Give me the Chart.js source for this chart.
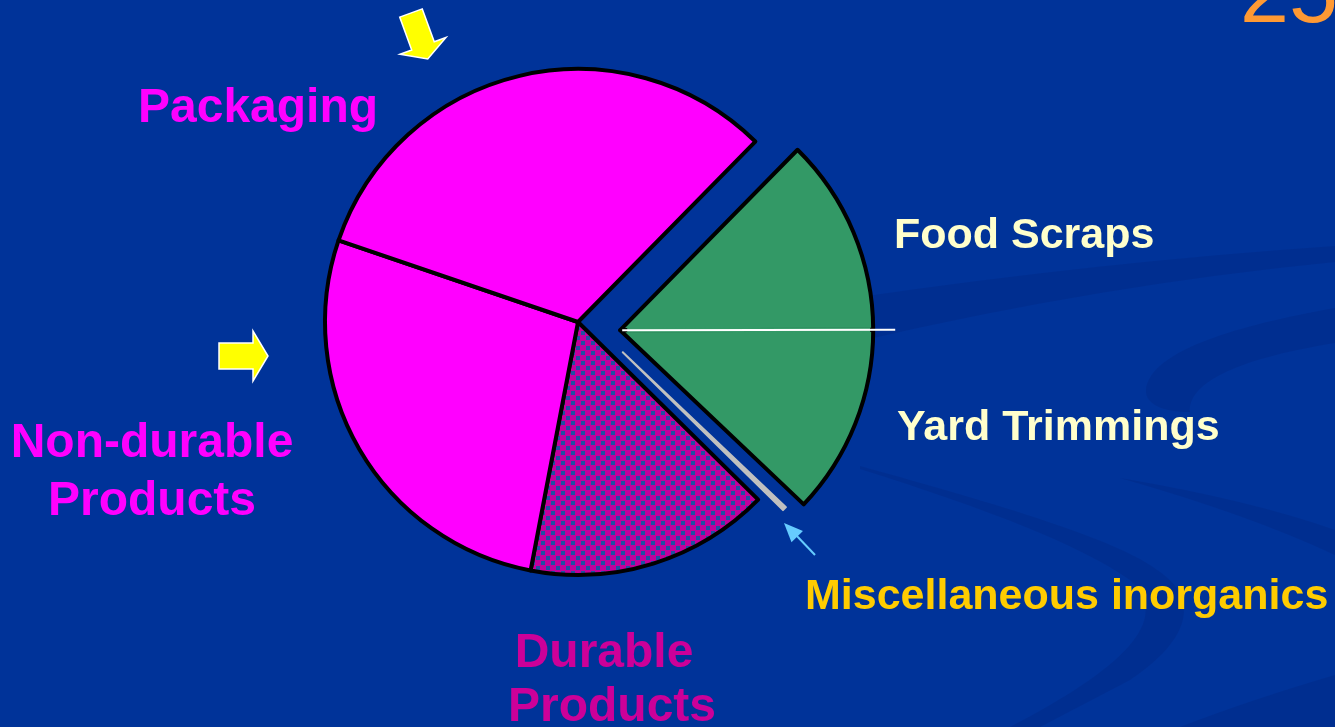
<!DOCTYPE html>
<html>
<head>
<meta charset="utf-8">
<script src="https://cdn.jsdelivr.net/npm/chart.js@4.4.1/dist/chart.umd.min.js"></script>
<style>
  html, body { margin: 0; padding: 0; background: #003399; overflow: hidden; }
  #wrap { position: relative; width: 1335px; height: 727px; }
  #wasteChart { position: absolute; left: 0; top: 0; }
  .lbl { position: absolute; font-family: "Liberation Sans", Arial, sans-serif; font-weight: bold; line-height: 1; white-space: nowrap; }
</style>
</head>
<body>
<div id="wrap">
  <canvas id="wasteChart" width="1335" height="727"></canvas>

  <div class="lbl" style="left:1240px; top:-52px; font-size:88px; font-weight:normal; color:#ff9933;">25</div>
  <div class="lbl" style="left:138px; top:82px; font-size:48px; color:#ff00ff;">Packaging</div>
  <div class="lbl" style="left:-48px; width:400px; text-align:center; top:417px; font-size:48px; color:#ff00ff;">Non-durable</div>
  <div class="lbl" style="left:-48px; width:400px; text-align:center; top:475px; font-size:48px; color:#ff00ff;">Products</div>
  <div class="lbl" style="left:404px; width:400px; text-align:center; top:627px; font-size:48px; color:#cc0099;">Durable</div>
  <div class="lbl" style="left:412px; width:400px; text-align:center; top:681px; font-size:48px; color:#cc0099;">Products</div>
  <div class="lbl" style="left:894px; top:212px; font-size:43px; color:#ffffcc;">Food Scraps</div>
  <div class="lbl" style="left:897px; top:404px; font-size:43px; color:#ffffcc;">Yard Trimmings</div>
  <div class="lbl" style="left:805px; top:573px; font-size:43px; color:#ffcc00;">Miscellaneous inorganics</div>
</div>

<script>
// share of municipal solid waste (%)
const categories = ['Food Scraps', 'Yard Trimmings', 'Miscellaneous inorganics', 'Durable Products', 'Non-durable Products', 'Packaging'];
const shares = [12.6, 12.1, 0.3, 15.6, 27.2, 32.1];

const GREEN = '#339966';

// dotted fill for the durable slice
function dotPattern() {
  const c = document.createElement('canvas');
  c.width = 10; c.height = 10;
  const g = c.getContext('2d');
  g.fillStyle = '#c2009c';
  g.fillRect(0, 0, 10, 10);
  g.fillStyle = '#2050a4';
  g.fillRect(1, 1, 4, 4);
  g.fillRect(6, 6, 4, 4);
  return g.createPattern(c, 'repeat');
}

// pulled-out slices: distance, direction (deg, clockwise from 12 o'clock), radius trim
const explode = [
  { dist: 43, dir: 101, trim: 0 },
  { dist: 43, dir: 101, trim: 0 },
  { dist: 54, dir: 124, trim: 28 },
  null, null, null
];

const explodePlugin = {
  id: 'explode',
  afterDatasetsUpdate(chart) {
    chart.getDatasetMeta(0).data.forEach((arc, i) => {
      const e = explode[i];
      if (!e) return;
      const a = e.dir * Math.PI / 180;
      arc.x += Math.sin(a) * e.dist;
      arc.y -= Math.cos(a) * e.dist;
      arc.outerRadius -= e.trim;
    });
  },
  afterDatasetsDraw(chart) {
    // white divider between food scraps and yard trimmings
    const yard = chart.getDatasetMeta(0).data[1];
    const ctx = chart.ctx;
    const a = yard.startAngle, r = yard.outerRadius;
    const cos = Math.cos(a), sin = Math.sin(a);
    ctx.save();
    ctx.lineCap = 'butt';
    ctx.strokeStyle = GREEN;
    ctx.lineWidth = 5;
    ctx.beginPath();
    ctx.moveTo(yard.x + cos * 7, yard.y + sin * 7);
    ctx.lineTo(yard.x + cos * (r - 3), yard.y + sin * (r - 3));
    ctx.stroke();
    ctx.strokeStyle = '#ffffff';
    ctx.lineWidth = 2;
    ctx.beginPath();
    ctx.moveTo(yard.x + cos * 2, yard.y + sin * 2);
    ctx.lineTo(yard.x + cos * (r + 22), yard.y + sin * (r + 22));
    ctx.stroke();
    ctx.restore();
  }
};

// faint swooshes of the slide background
const backdropPlugin = {
  id: 'backdrop',
  beforeDraw(chart) {
    const ctx = chart.ctx;
    ctx.save();
    ctx.fillStyle = 'rgba(0, 30, 110, 0.2)';
    ctx.beginPath();
    ctx.moveTo(860, 297);
    ctx.quadraticCurveTo(1100, 262, 1335, 246);
    ctx.lineTo(1335, 262);
    ctx.quadraticCurveTo(1100, 285, 860, 341);
    ctx.closePath();
    ctx.fill();

    ctx.beginPath();
    ctx.moveTo(1335, 308);
    ctx.bezierCurveTo(1240, 325, 1150, 350, 1146, 390);
    ctx.bezierCurveTo(1145, 405, 1165, 412, 1190, 412);
    ctx.bezierCurveTo(1188, 385, 1230, 360, 1335, 343);
    ctx.closePath();
    ctx.fill();

    ctx.beginPath();
    ctx.moveTo(860, 466);
    ctx.bezierCurveTo(1000, 505, 1120, 540, 1160, 572);
    ctx.bezierCurveTo(1200, 600, 1190, 640, 1130, 680);
    ctx.lineTo(1040, 727);
    ctx.lineTo(1010, 727);
    ctx.bezierCurveTo(1120, 670, 1175, 620, 1130, 580);
    ctx.bezierCurveTo(1080, 545, 990, 510, 860, 469);
    ctx.closePath();
    ctx.fill();

    ctx.beginPath();
    ctx.moveTo(1335, 675);
    ctx.quadraticCurveTo(1250, 700, 1180, 727);
    ctx.lineTo(1335, 727);
    ctx.closePath();
    ctx.fill();

    ctx.beginPath();
    ctx.moveTo(1335, 530);
    ctx.quadraticCurveTo(1250, 500, 1120, 478);
    ctx.quadraticCurveTo(1250, 515, 1335, 555);
    ctx.closePath();
    ctx.fill();
    ctx.restore();
  },
  afterDraw(chart) {
    const ctx = chart.ctx;
    blockArrow(ctx, 411, 13, 70, 35, 24, 14, 49);
    blockArrow(ctx, 219, 356, 0, 34, 26, 15, 50);
    // small blue pointer to the inorganics sliver
    ctx.save();
    ctx.strokeStyle = '#66ccff';
    ctx.fillStyle = '#66ccff';
    ctx.lineWidth = 2;
    ctx.beginPath();
    ctx.moveTo(815, 555);
    ctx.lineTo(795, 534);
    ctx.stroke();
    ctx.translate(784, 523);
    ctx.rotate(Math.atan2(32, 31));
    ctx.beginPath();
    ctx.moveTo(0, 0);
    ctx.lineTo(19, -8);
    ctx.lineTo(19, 8);
    ctx.closePath();
    ctx.fill();
    ctx.restore();
  }
};

function blockArrow(ctx, x, y, deg, shaftLen, shaftW, headLen, headW) {
  ctx.save();
  ctx.translate(x, y);
  ctx.rotate(deg * Math.PI / 180);
  ctx.beginPath();
  ctx.moveTo(0, -shaftW / 2);
  ctx.lineTo(shaftLen, -shaftW / 2);
  ctx.lineTo(shaftLen, -headW / 2);
  ctx.lineTo(shaftLen + headLen, 0);
  ctx.lineTo(shaftLen, headW / 2);
  ctx.lineTo(shaftLen, shaftW / 2);
  ctx.lineTo(0, shaftW / 2);
  ctx.closePath();
  ctx.fillStyle = '#ffff00';
  ctx.fill();
  ctx.strokeStyle = '#ffffff';
  ctx.lineWidth = 1.5;
  ctx.stroke();
  ctx.restore();
}

const ctx = document.getElementById('wasteChart');

new Chart(ctx, {
  type: 'pie',
  data: {
    labels: categories,
    datasets: [{
      data: shares,
      backgroundColor: [GREEN, GREEN, '#c0c0c0', dotPattern(), '#ff00ff', '#ff00ff'],
      borderColor: ['#000000', '#000000', '#c0c0c0', '#000000', '#000000', '#000000'],
      borderWidth: [4, 4, 2, 4, 4, 4],
      borderJoinStyle: 'round'
    }]
  },
  options: {
    responsive: false,
    animation: false,
    events: [],
    rotation: 44.5,
    radius: 253,
    layout: { padding: { left: 298, right: 477, top: 42, bottom: 125 } },
    plugins: {
      legend: { display: false },
      tooltip: { enabled: false }
    }
  },
  plugins: [backdropPlugin, explodePlugin]
});
</script>
</body>
</html>
